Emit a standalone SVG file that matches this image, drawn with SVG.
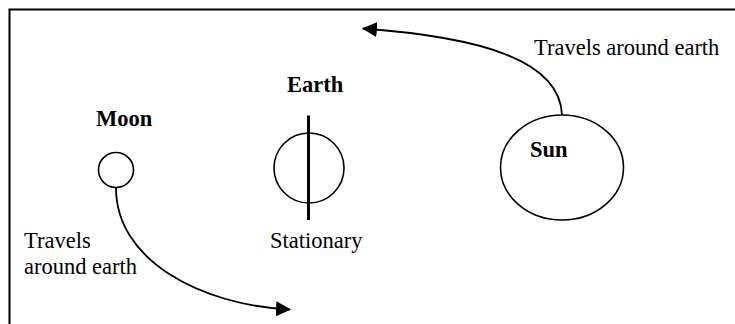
<svg xmlns="http://www.w3.org/2000/svg" width="735" height="324" viewBox="0 0 735 324">
<defs>
<style>
.shape{fill:none;stroke:#000;stroke-width:1.6}
.conn{fill:none;stroke:#000;stroke-width:1.8}
.lbl{font-family:"Liberation Serif","Times New Roman",serif;font-size:22.5px;fill:#000}
.b{font-weight:bold}
</style>
<marker id="arr" viewBox="0 0 14 14" refX="13" refY="7" markerWidth="15" markerHeight="15" markerUnits="userSpaceOnUse" orient="auto">
<path d="M0,0 L14,7 L0,14 Z" fill="#000"/>
</marker>
</defs>
<rect width="735" height="324" fill="#fff"/>
<g id="frame">
<path d="M9.5,324 V9.5 H735" fill="none" stroke="#000" stroke-width="2"/>
</g>
<g id="moon">
<circle class="shape" cx="116" cy="170" r="17.5"/>
<text class="lbl b" x="96" y="126">Moon</text>
</g>
<g id="earth">
<circle class="shape" cx="309" cy="168" r="35"/>
<line x1="308.5" y1="115.5" x2="308.5" y2="220" stroke="#000" stroke-width="3"/>
<text class="lbl b" x="287" y="92">Earth</text>
<text class="lbl" x="270" y="248">Stationary</text>
</g>
<g id="sun">
<ellipse class="shape" cx="562" cy="167.5" rx="61.5" ry="52.5"/>
<text class="lbl b" x="530" y="157">Sun</text>
</g>
<g id="connectors">
<path class="conn" d="M562,115 C560,60 480,37 363,28.5" marker-end="url(#arr)"/>
<path class="conn" d="M116,188 C116,260 200,305 290,309.5" marker-end="url(#arr)"/>
</g>
<g id="labels">
<text class="lbl" x="534" y="55">Travels around earth</text>
<text class="lbl" x="24" y="248">Travels</text>
<text class="lbl" x="24" y="274">around earth</text>
</g>
</svg>
